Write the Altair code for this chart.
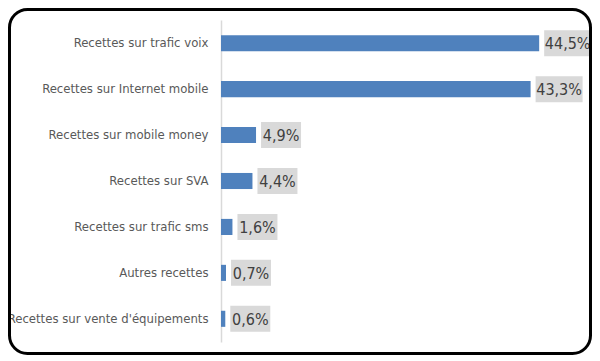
import altair as alt
import pandas as pd

categories = [
    "Recettes sur trafic voix",
    "Recettes sur Internet mobile",
    "Recettes sur mobile money",
    "Recettes sur SVA",
    "Recettes sur trafic sms",
    "Autres recettes",
    "Recettes sur vente d'équipements",
]
values = [44.5, 43.3, 4.9, 4.4, 1.6, 0.7, 0.6]
labels = ["44,5%", "43,3%", "4,9%", "4,4%", "1,6%", "0,7%", "0,6%"]

df = pd.DataFrame({"cat": categories, "value": values, "label": labels})

FONT = "DejaVu Sans Condensed"
PX = 357.5 / 50.0  # pixels per percent
GAP = 5
BW = "(7*length(datum.label) + 12)"

y = alt.Y("cat:N", sort=categories, title=None,
          scale=alt.Scale(paddingInner=0.65, paddingOuter=0.33),
          axis=alt.Axis(ticks=False, domainColor="#d9d9d9", domainWidth=1.5,
                        labelColor="#595959", labelFont=FONT, labelFontSize=13,
                        labelPadding=13, labelLimit=220))
x = alt.X("value:Q", scale=alt.Scale(domain=[0, 50], nice=False), axis=None)

base = alt.Chart(df)

bars = base.mark_bar(color="#4f81bd").encode(x=x, y=y)

boxes = base.transform_calculate(
    lx=f"datum.value + {GAP}/{PX}",
    rx=f"datum.value + ({GAP} + {BW})/{PX}",
).mark_bar(color="#d9d9d9", height=26).encode(
    x=alt.X("lx:Q", scale=alt.Scale(domain=[0, 50], nice=False), axis=None),
    x2="rx:Q",
    y=alt.Y("cat:N", sort=categories),
)

texts = base.transform_calculate(
    cx=f"datum.value + ({GAP} + {BW}/2)/{PX}",
).mark_text(font=FONT, fontSize=16, color="#404040", align="center", baseline="middle", dy=1).encode(
    x=alt.X("cx:Q", scale=alt.Scale(domain=[0, 50], nice=False), axis=None),
    y=alt.Y("cat:N", sort=categories),
    text="label:N",
)

border = alt.Chart(pd.DataFrame({"a": [0]})).mark_rect(
    fill="transparent", stroke="#000000", strokeWidth=3, cornerRadius=18
).encode(
    x=alt.value(-211.5), x2=alt.value(369.5),
    y=alt.value(-10.5), y2=alt.value(333.5),
)

chart = alt.layer(bars, boxes, texts, border).properties(
    width=357.5, height=322,
    autosize=alt.AutoSizeParams(type="none"),
    padding={"left": 213, "top": 12, "right": 13.5, "bottom": 13},
    background="white",
).configure_view(stroke=None)

chart.save("out.html", embed_options={"renderer": "svg", "actions": False})
